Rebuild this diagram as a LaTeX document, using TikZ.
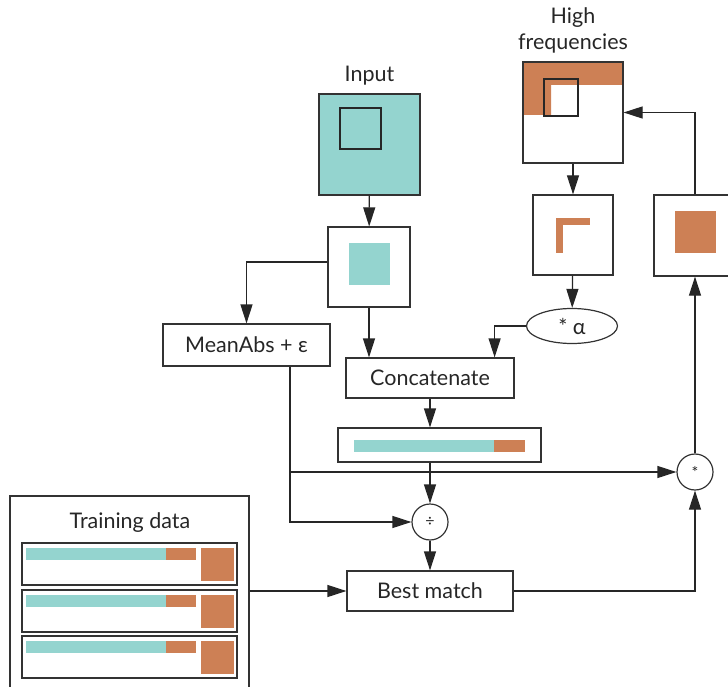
\documentclass[tikz,border=0pt]{standalone}
\usepackage{fontspec}
\setmainfont{Lato}
\usetikzlibrary{positioning, arrows.meta, shapes}
\definecolor{aqua}{HTML}{94D4CF}
\definecolor{rust}{HTML}{CD8055}

\begin{document}
\begin{tikzpicture}[x=1pt, y=-1pt, font=\fontsize{21.5}{26}\selectfont, text=black!85,
    box/.style={rectangle, draw=black!80, line width=1.2pt, inner sep=0pt},
    op/.style={circle, draw=black!80, line width=1.2pt, minimum size=36pt, inner sep=0pt, font=\fontsize{16}{16}\selectfont},
    arr/.style={draw=black!85, line width=1.2pt, -{Triangle[length=19pt, width=12pt]}},
    wire/.style={draw=black!85, line width=1.2pt}]
            \clip (0,0) rectangle (728,687);

            % input block
            \node at (369.5,76) {Input};
            \node[box, fill=aqua, minimum width=101pt, minimum height=101pt] (input) at (369.5,144.5) {};
            \draw[black!85, line width=1.2pt] (340,108) rectangle (381,149);
            \node[box, minimum width=82pt, minimum height=80pt] (patch) at (369,267) {};
            \fill[aqua] (349,243) rectangle (390,285);

            % high frequencies
            \node[align=center] at (573,30) {High\\frequencies};
            \fill[rust] (523,62) -- (623,62) -- (623,85) -- (551,85) -- (551,115) -- (523,115) -- cycle;
            \node[box, minimum width=100pt, minimum height=101pt] (hf) at (573,112.5) {};
            \draw[black!85, line width=1.2pt] (544,79) rectangle (578,116);
            \node[box, minimum width=80pt, minimum height=80pt] (edge) at (573,235) {};
            \fill[rust] (556,218) rectangle (590,225);
            \fill[rust] (556,218) rectangle (563,253);
            \node[ellipse, draw=black!80, line width=1.2pt, minimum width=91pt, minimum height=35pt, inner sep=0pt] (alpha) at (572,326) {* α};
            \node[box, minimum width=82pt, minimum height=81pt] (hires) at (695,235.5) {};
            \fill[rust] (675,211) rectangle (716,253);

            % processing chain
            \node[box, minimum width=167pt, minimum height=42pt] (meanabs) at (246.5,345) {MeanAbs + ε};
            \node[box, minimum width=168pt, minimum height=40pt] (concat) at (430,378) {Concatenate};
            \node[box, minimum width=203pt, minimum height=34pt] (vec) at (439.5,445) {};
            \fill[aqua] (354,440) rectangle (494,452);
            \fill[rust] (494,440) rectangle (525,452);
            \node[op] (div) at (430,522) {÷};
            \node[op] (mul) at (695,472) {*};
            \node[box, minimum width=166pt, minimum height=40pt] (match) at (430,591) {Best match};

            % training data
            \node[box, minimum width=239pt, minimum height=208pt] (train) at (129.5,600) {};
            \node at (130,523) {Training data};
            \foreach \i/\y in {1/543, 2/590, 3/636} {
                \node[box, minimum width=215pt, minimum height=42pt] (row\i) at (129.5,\y+21) {};
                \fill[aqua] (26,\y+5) rectangle (166,\y+17);
                \fill[rust] (166,\y+5) rectangle (196,\y+17);
                \fill[rust] (201,\y+5) rectangle (234,\y+38);
            }

            % connectors
            \coordinate (tap) at ([xshift=43.5pt]meanabs.south |- mul.west);
            \draw[arr] (input) -- (patch);
            \draw[arr] ([yshift=5pt]patch.west) -| (meanabs.north);
            \draw[arr] (patch.south) -- (patch.south |- concat.north);
            \draw[arr] (hf) -- (edge);
            \draw[arr] (edge) -- (alpha);
            \draw[arr] (alpha.west) -| ([xshift=-20pt]concat.north east);
            \draw[arr] (concat.south) -- (concat.south |- vec.north);
            \draw[arr] (div.north |- vec.south) -- (div.north);
            \draw[arr] ([xshift=43.5pt]meanabs.south) |- (div.west);
            \draw[arr] (tap) -- (mul.west);
            \draw[arr] (div) -- (match);
            \draw[arr] (train.east |- match.west) -- (match.west);
            \draw[arr] (match.east) -| (mul.south);
            \draw[arr] (mul) -- (hires);
            \draw[arr] (hires.north) |- (hf.east);
        \end{tikzpicture}
\end{document}
